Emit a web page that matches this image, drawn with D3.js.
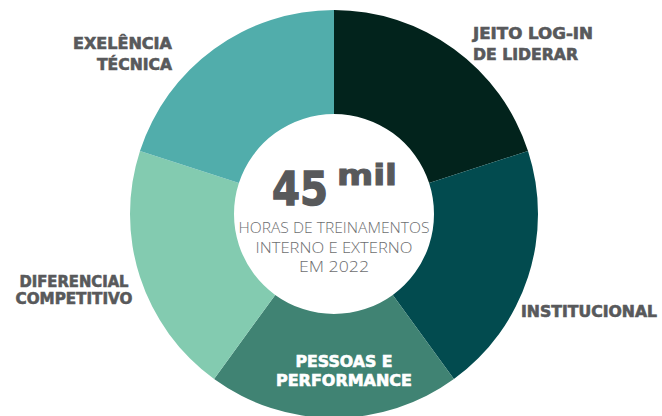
<!DOCTYPE html>
<html>
<head>
<meta charset="utf-8">
<script src="https://cdn.jsdelivr.net/npm/d3@7"></script>
<style>
  html, body { margin: 0; padding: 0; background: #fff; }
  svg { display: block; }
</style>
</head>
<body>
<div id="chart"></div>
<script>
// Chart data
const categories = ["JEITO LOG-IN DE LIDERAR", "INSTITUCIONAL", "PESSOAS E PERFORMANCE", "DIFERENCIAL COMPETITIVO", "EXELÊNCIA TÉCNICA"];
const values = [20, 20, 20, 20, 20];
const colors = ["#02231c", "#024b4f", "#408373", "#83cbb0", "#51adab"];
const labelLines = [["JEITO LOG-IN", "DE LIDERAR"], ["INSTITUCIONAL"], ["PESSOAS E", "PERFORMANCE"], ["DIFERENCIAL", "COMPETITIVO"], ["EXELÊNCIA", "TÉCNICA"]];
const centerBig = "45";
const centerUnit = "mil";
const centerLines = ["HORAS DE TREINAMENTOS", "INTERNO E EXTERNO", "EM 2022"];

// Dimensions
const width = 662;
const height = 416;
const cx = 334, cy = 214;
const outerR = 204, innerR = 100;

// Label placement (x, first baseline, line gap, anchor, colour, line widths)
const labelPlace = [
    { x: 473, y: 39, gap: 21, anchor: "start", fill: "#58595b", w: [120, 105] },
    { x: 521, y: 317, gap: 20, anchor: "start", fill: "#58595b", w: [136] },
    { x: 344, y: 367, gap: 19, anchor: "middle", fill: "#ffffff", w: [97, 136] },
    { x: 74, y: 287, gap: 16.5, anchor: "middle", fill: "#58595b", w: [109, 117] },
    { x: 172, y: 49, gap: 21, anchor: "end", fill: "#58595b", w: [99, 75] }
];

const svg = d3.select("#chart").append("svg")
    .attr("width", width)
    .attr("height", height);

const pie = d3.pie().sort(null).value(d => d);
const arc = d3.arc().innerRadius(innerR).outerRadius(outerR);

const g = svg.append("g").attr("transform", `translate(${cx},${cy})`);

g.selectAll("path")
    .data(pie(values))
    .join("path")
    .attr("d", arc)
    .attr("fill", (d, i) => colors[i]);

// Slice labels
const labelFont = "'DejaVu Sans', sans-serif";
labelLines.forEach((lines, i) => {
    const p = labelPlace[i];
    lines.forEach((line, j) => {
        svg.append("text")
            .attr("x", p.x)
            .attr("y", p.y + j * p.gap)
            .attr("text-anchor", p.anchor)
            .attr("fill", p.fill)
            .attr("stroke", p.fill)
            .attr("stroke-width", 0.6)
            .attr("textLength", p.w[j])
            .attr("lengthAdjust", "spacingAndGlyphs")
            .style("font-family", labelFont)
            .style("font-weight", 700)
            .style("font-size", "15px")
            .text(line);
    });
});

// Center text
svg.append("text")
    .attr("x", 272)
    .attr("y", 205)
    .attr("fill", "#58595b")
    .attr("stroke", "#58595b")
    .attr("stroke-width", 1.4)
    .attr("textLength", 56)
    .attr("lengthAdjust", "spacingAndGlyphs")
    .style("font-family", labelFont)
    .style("font-weight", 700)
    .style("font-size", "46px")
    .text(centerBig);

svg.append("text")
    .attr("x", 337)
    .attr("y", 185)
    .attr("fill", "#58595b")
    .attr("stroke", "#58595b")
    .attr("stroke-width", 1)
    .attr("textLength", 60)
    .attr("lengthAdjust", "spacingAndGlyphs")
    .style("font-family", labelFont)
    .style("font-weight", 700)
    .style("font-size", "28px")
    .text(centerUnit);

const centerW = [191, 157, 70];
centerLines.forEach((line, j) => {
    svg.append("text")
        .attr("x", cx)
        .attr("y", 233 + j * 19.5)
        .attr("text-anchor", "middle")
        .attr("fill", "#6d6e70")
        .attr("textLength", centerW[j])
        .attr("lengthAdjust", "spacingAndGlyphs")
        .style("font-family", "'Open Sans', sans-serif")
        .style("font-weight", 300)
        .style("font-size", "15px")
        .text(line);
});
</script>
</body>
</html>
